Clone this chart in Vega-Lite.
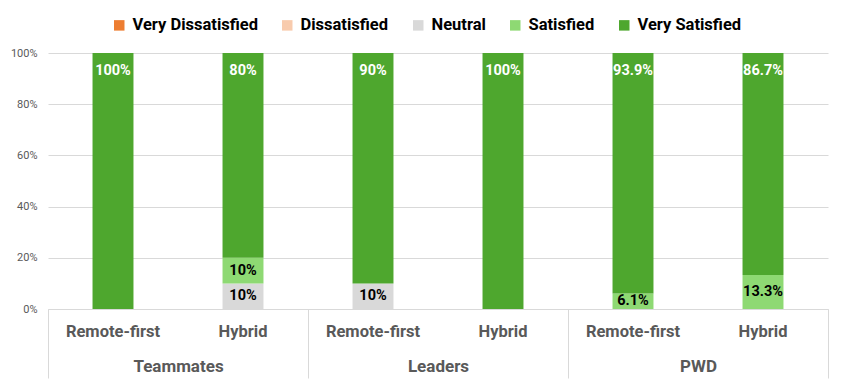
{
  "$schema": "https://vega.github.io/schema/vega-lite/v6.json",
  "width": 780,
  "height": 256,
  "autosize": "none",
  "padding": {"left": 48, "top": 53, "right": 16, "bottom": 78},
  "background": "white",
  "data": {
    "values": [
      {"group": "Teammates", "bar": "Teammates|Remote-first", "level": "Very Satisfied", "order": 5, "value": 1.0},
      {"group": "Teammates", "bar": "Teammates|Hybrid", "level": "Neutral", "order": 3, "value": 0.1},
      {"group": "Teammates", "bar": "Teammates|Hybrid", "level": "Satisfied", "order": 4, "value": 0.1},
      {"group": "Teammates", "bar": "Teammates|Hybrid", "level": "Very Satisfied", "order": 5, "value": 0.8},
      {"group": "Leaders", "bar": "Leaders|Remote-first", "level": "Neutral", "order": 3, "value": 0.1},
      {"group": "Leaders", "bar": "Leaders|Remote-first", "level": "Very Satisfied", "order": 5, "value": 0.9},
      {"group": "Leaders", "bar": "Leaders|Hybrid", "level": "Very Satisfied", "order": 5, "value": 1.0},
      {"group": "PWD", "bar": "PWD|Remote-first", "level": "Satisfied", "order": 4, "value": 0.061},
      {"group": "PWD", "bar": "PWD|Remote-first", "level": "Very Satisfied", "order": 5, "value": 0.939},
      {"group": "PWD", "bar": "PWD|Hybrid", "level": "Satisfied", "order": 4, "value": 0.133},
      {"group": "PWD", "bar": "PWD|Hybrid", "level": "Very Satisfied", "order": 5, "value": 0.867}
    ]
  },
  "config": {
    "view": {"stroke": null},
    "font": "Roboto"
  },
  "layer": [
    {
      "transform": [
        {"stack": "value", "groupby": ["bar"], "sort": [{"field": "order", "order": "ascending"}], "as": ["y0", "y1"]},
        {"calculate": "(datum.y0 + datum.y1) / 2", "as": "ymid"}
      ],
      "encoding": {
        "x": {
          "field": "bar",
          "type": "nominal",
          "sort": ["Teammates|Remote-first", "Teammates|Hybrid", "Leaders|Remote-first", "Leaders|Hybrid", "PWD|Remote-first", "PWD|Hybrid"],
          "scale": {"paddingInner": 0.685, "paddingOuter": 0.3425},
          "axis": {
            "title": null,
            "labelAngle": 0,
            "labelExpr": "split(datum.label, '|')[1]",
            "labelFont": "Roboto",
            "labelFontSize": 16.5,
            "labelFontWeight": "bold",
            "labelColor": "#595959",
            "labelPadding": 14,
            "ticks": false,
            "tickSize": 0,
            "domain": true,
            "domainColor": "#d9d9d9",
            "domainWidth": 1,
            "grid": false
          }
        }
      },
      "layer": [
        {
          "mark": {"type": "bar"},
          "encoding": {
            "y": {
              "field": "y1",
              "type": "quantitative",
              "scale": {"domain": [0, 1]},
              "axis": {
                "title": null,
                "values": [0, 0.2, 0.4, 0.6, 0.8, 1],
                "format": "%",
                "labelFont": "Roboto",
                "labelFontSize": 11,
                "labelColor": "#595959",
                "labelPadding": 11,
                "ticks": false,
                "domain": false,
                "grid": true,
                "gridColor": "#d9d9d9",
                "gridWidth": 1
              }
            },
            "y2": {"field": "y0"},
            "color": {
              "field": "level",
              "type": "nominal",
              "scale": {
                "domain": ["Very Dissatisfied", "Dissatisfied", "Neutral", "Satisfied", "Very Satisfied"],
                "range": ["#ED7D31", "#F8CBAD", "#D9D9D9", "#8ED973", "#4EA72E"]
              },
              "legend": {
                "title": null,
                "orient": "none",
                "direction": "horizontal",
                "legendX": 63,
                "legendY": -36,
                "symbolType": "square",
                "symbolSize": 110,
                "symbolStrokeWidth": 0,
                "labelFont": "Roboto",
                "labelFontSize": 16.5,
                "labelFontWeight": "bold",
                "labelColor": "#000000",
                "labelOffset": 5,
                "columnPadding": 21
              }
            }
          }
        },
        {
          "transform": [{"filter": "datum.level === 'Very Satisfied'"}],
          "mark": {"type": "text", "baseline": "middle", "dy": 18, "font": "Roboto", "fontSize": 14.5, "fontWeight": "bold", "color": "white"},
          "encoding": {
            "y": {"field": "y1", "type": "quantitative"},
            "text": {"field": "value", "type": "quantitative", "format": ".1~%"}
          }
        },
        {
          "transform": [{"filter": "datum.level !== 'Very Satisfied'"}],
          "mark": {"type": "text", "baseline": "middle", "font": "Roboto", "fontSize": 14.5, "fontWeight": "bold", "color": "black"},
          "encoding": {
            "y": {"field": "ymid", "type": "quantitative"},
            "text": {"field": "value", "type": "quantitative", "format": ".1~%"}
          }
        }
      ]
    },
    {
      "mark": {"type": "text", "text": ""},
      "encoding": {
        "x": {
          "field": "group",
          "type": "nominal",
          "sort": ["Teammates", "Leaders", "PWD"],
          "scale": {"paddingInner": 0, "paddingOuter": 0},
          "axis": {
            "title": null,
            "orient": "bottom",
            "labelAngle": 0,
            "labelFont": "Roboto",
            "labelFontSize": 17,
            "labelFontWeight": "bold",
            "labelColor": "#595959",
            "tickBand": "extent",
            "ticks": true,
            "tickSize": 69,
            "tickColor": "#d9d9d9",
            "tickWidth": 1,
            "labelPadding": -20,
            "domain": false,
            "grid": false
          }
        }
      }
    }
  ],
  "resolve": {"scale": {"x": "independent"}}
}
